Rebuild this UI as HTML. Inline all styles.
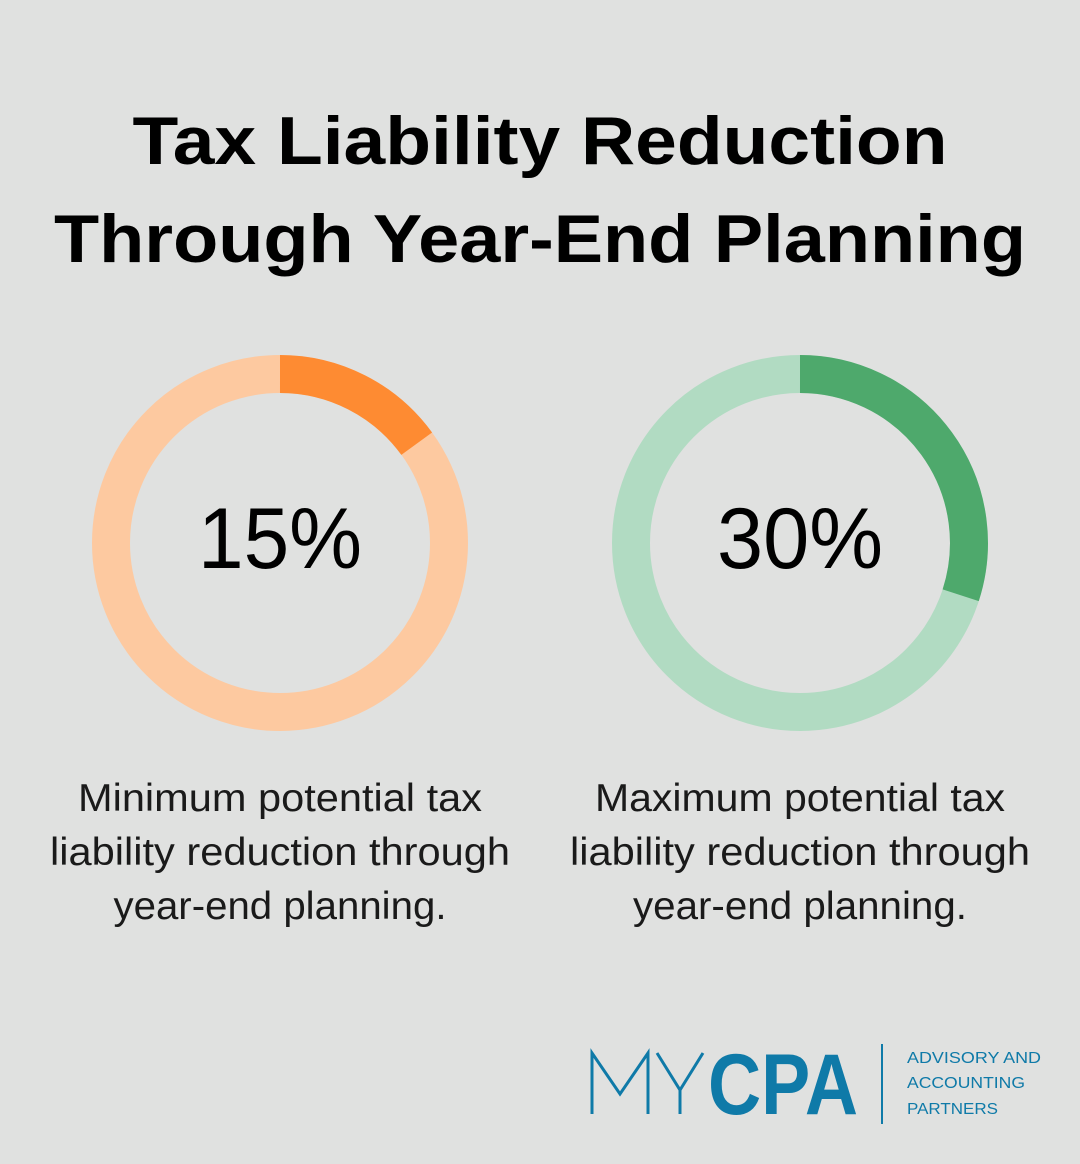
<!DOCTYPE html>
<html><head><meta charset="utf-8"><style>
html,body{margin:0;padding:0;background:#e0e1e0;}
svg{display:block}
</style></head><body>
<svg width="1080" height="1164" viewBox="0 0 1080 1164" xmlns="http://www.w3.org/2000/svg">
<rect width="1080" height="1164" fill="#e0e1e0"/>
<g font-family="'Liberation Sans', 'DejaVu Sans', sans-serif" fill="#000" text-anchor="middle">
<text x="540" y="164" font-size="68" font-weight="bold" textLength="815" lengthAdjust="spacingAndGlyphs">Tax Liability Reduction</text>
<text x="540" y="262" font-size="68" font-weight="bold" textLength="972" lengthAdjust="spacingAndGlyphs">Through Year-End Planning</text>
</g>
<circle cx="280" cy="543" r="169" fill="none" stroke="#fdc9a0" stroke-width="38"/>
<path d="M280 374 A169 169 0 0 1 416.7 443.7" fill="none" stroke="#fe8b32" stroke-width="38"/>
<circle cx="800" cy="543" r="169" fill="none" stroke="#b1dbc2" stroke-width="38"/>
<path d="M800 374 A169 169 0 0 1 960.7 595.2" fill="none" stroke="#4ea96c" stroke-width="38"/>
<g font-family="'Liberation Sans', sans-serif" fill="#000" text-anchor="middle">
<text x="280" y="568" font-size="86" textLength="164" lengthAdjust="spacingAndGlyphs">15%</text>
<text x="800" y="568" font-size="86" textLength="166" lengthAdjust="spacingAndGlyphs">30%</text>
</g>
<g font-family="'Liberation Sans', sans-serif" fill="#1a1a1a" text-anchor="middle" font-size="39">
<text x="280" y="811" textLength="404" lengthAdjust="spacingAndGlyphs">Minimum potential tax</text>
<text x="280" y="865" textLength="460" lengthAdjust="spacingAndGlyphs">liability reduction through</text>
<text x="280" y="919" textLength="333" lengthAdjust="spacingAndGlyphs">year-end planning.</text>
<text x="800" y="811" textLength="410" lengthAdjust="spacingAndGlyphs">Maximum potential tax</text>
<text x="800" y="865" textLength="460" lengthAdjust="spacingAndGlyphs">liability reduction through</text>
<text x="800" y="919" textLength="334" lengthAdjust="spacingAndGlyphs">year-end planning.</text>
</g>
<g fill="none" stroke="#0f7aa8" stroke-width="3">
<path d="M592 1114 V1053 L620 1094 L648 1053 V1114"/>
<path d="M657 1053 L680 1090 L703 1053 M680 1090 V1114"/>
</g>
<text x="708" y="1114" font-family="'Liberation Sans', sans-serif" font-weight="bold" font-size="86" fill="#0f7aa8" textLength="150" lengthAdjust="spacingAndGlyphs">CPA</text>
<rect x="881" y="1044" width="2" height="80" fill="#0f7aa8"/>
<g font-family="'Liberation Sans', sans-serif" font-size="16" fill="#0f7aa8">
<text x="907" y="1063" textLength="134" lengthAdjust="spacingAndGlyphs">ADVISORY AND</text>
<text x="907" y="1088" textLength="118" lengthAdjust="spacingAndGlyphs">ACCOUNTING</text>
<text x="907" y="1114" textLength="91" lengthAdjust="spacingAndGlyphs">PARTNERS</text>
</g>
</svg>
</body></html>
